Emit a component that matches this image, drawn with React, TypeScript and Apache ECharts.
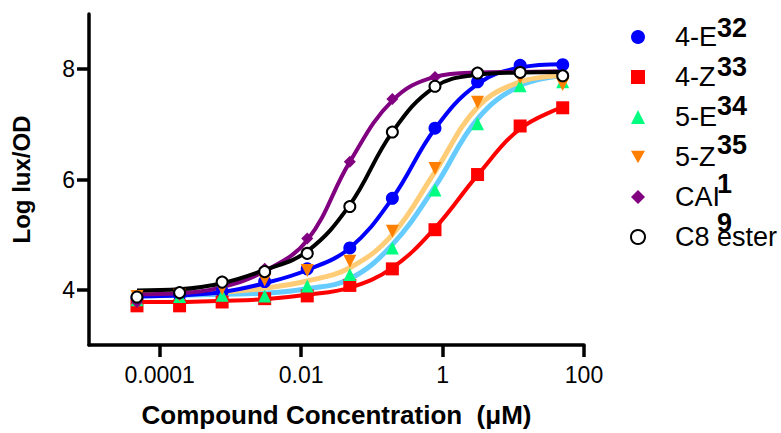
import React, { useEffect, useRef } from "react";
import * as echarts from "echarts";

const FONT = "'Liberation Sans', Arial, sans-serif";

// concentrations (µM)
const CONC = [0.0000477, 0.000191, 0.000763, 0.00305, 0.0122, 0.0488, 0.195, 0.781, 3.125, 12.5, 50];

// measured points
const E4_32 = [3.85, 3.9, 3.97, 4.15, 4.38, 4.76, 5.66, 6.93, 7.77, 8.07, 8.08];
const Z4_33 = [3.71, 3.71, 3.78, 3.84, 3.89, 4.08, 4.38, 5.09, 6.09, 6.97, 7.3];
const E5_34 = [3.82, 3.88, 3.9, 3.89, 4.07, 4.28, 4.76, 5.81, 7.01, 7.7, 7.77];
const Z5_35 = [3.88, 3.9, 4.02, 4.18, 4.35, 4.52, 5.06, 6.2, 7.4, 7.85, 7.72];
const CAI_1 = [3.78, 3.92, 4.15, 4.38, 4.93, 6.32, 7.46, 7.86, 7.94, 7.96, 7.9];
const C8_9 = [3.87, 3.95, 4.14, 4.33, 4.66, 5.51, 6.86, 7.69, 7.93, 7.94, 7.88];

// fitted curves (at the same concentrations)
const FIT_E4 = [3.88, 3.9, 3.96, 4.12, 4.36, 4.76, 5.66, 6.92, 7.73, 8.03, 8.09];
const FIT_Z4 = [3.78, 3.78, 3.8, 3.83, 3.91, 4.04, 4.4, 5.12, 6.08, 6.92, 7.31];
const FIT_E5 = [3.89, 3.9, 3.92, 3.94, 4.02, 4.2, 4.82, 5.87, 7.1, 7.7, 7.88];
const FIT_Z5 = [3.92, 3.93, 3.96, 4.03, 4.16, 4.4, 5.0, 6.14, 7.31, 7.77, 7.88];
const FIT_CAI = [3.92, 3.94, 4.05, 4.34, 4.9, 6.32, 7.43, 7.86, 7.94, 7.95, 7.96];
const FIT_C8 = [3.99, 4.01, 4.12, 4.36, 4.7, 5.54, 6.86, 7.68, 7.9, 7.94, 7.95];

const X_TICKS = [0.0001, 0.01, 1, 100];
const X_TICK_LABELS = ["0.0001", "0.01", "1", "100"];
const Y_TICKS = [4, 6, 8];

const NAMES = ["4-E", "4-Z", "5-E", "5-Z", "CAI", "C8 ester"];
const SUPERS = ["32", "33", "34", "35", "1", "9"];

const toXY = (vals: number[]) => CONC.map((c, i) => [Math.log10(c), vals[i]]);

export default function App() {
  const ref = useRef<HTMLDivElement>(null);

  useEffect(() => {
    if (!ref.current) return;
    const chart = echarts.init(ref.current, undefined, { renderer: "svg" });

    const curve = (vals: number[], color: string, width: number, z: number) => ({
      type: "line",
      data: toXY(vals),
      showSymbol: false,
      smooth: 0.4,
      lineStyle: { color, width },
      z,
      silent: true,
    });

    const points = (name: string, vals: number[], symbol: string, size: number, itemStyle: any) => ({
      type: "scatter",
      name,
      data: toXY(vals),
      symbol,
      symbolSize: size,
      itemStyle: { opacity: 1, ...itemStyle },
      z: 10,
    });

    const rowTop = 23.5;
    const rowStep = 39;
    const supers = SUPERS.map((s, i) => ({
      type: "text",
      z: 100,
      style: {
        text: s,
        x: 717,
        y: rowTop + 13 + i * rowStep - 8.5,
        fill: "#000",
        font: `bold 27px ${FONT}`,
        verticalAlign: "middle",
        align: "left",
      },
    }));

    chart.setOption({
      animation: false,
      backgroundColor: "#fff",
      grid: { left: 89, top: 14, width: 495, height: 333 },
      xAxis: {
        type: "value",
        min: -5,
        max: 2,
        name: "Compound Concentration  (\u03bcM)",
        nameLocation: "middle",
        nameGap: 57,
        nameTextStyle: { fontFamily: FONT, fontSize: 26, fontWeight: "bold", color: "#000" },
        axisLine: { onZero: false, lineStyle: { color: "#000", width: 3.5 } },
        axisTick: {
          show: true,
          length: 12,
          customValues: X_TICKS.map((v) => Math.log10(v)),
          lineStyle: { color: "#000", width: 3.5 },
        },
        axisLabel: {
          customValues: X_TICKS.map((v) => Math.log10(v)),
          formatter: (v: number) => {
            const idx = X_TICKS.findIndex((t) => Math.abs(Math.log10(t) - v) < 1e-6);
            return idx >= 0 ? X_TICK_LABELS[idx] : "";
          },
          margin: 18,
          fontFamily: FONT,
          fontSize: 23,
          color: "#000",
        },
        splitLine: { show: false },
      },
      yAxis: {
        type: "value",
        min: 3,
        max: 9,
        name: "Log lux/OD",
        nameLocation: "middle",
        nameGap: 56,
        nameTextStyle: { fontFamily: FONT, fontSize: 24, fontWeight: "bold", color: "#000" },
        axisLine: { show: true, onZero: false, lineStyle: { color: "#000", width: 3.5 } },
        axisTick: {
          show: true,
          length: 12,
          customValues: Y_TICKS,
          lineStyle: { color: "#000", width: 3.5 },
        },
        axisLabel: {
          customValues: Y_TICKS,
          margin: 14,
          fontFamily: FONT,
          fontSize: 23,
          color: "#000",
        },
        splitLine: { show: false },
      },
      legend: {
        orient: "vertical",
        left: 630,
        top: rowTop,
        padding: 0,
        itemWidth: 14,
        itemHeight: 14,
        itemGap: 13,
        selectedMode: false,
        data: NAMES,
        textStyle: {
          fontFamily: FONT,
          fontSize: 27,
          lineHeight: 26,
          color: "#000",
          padding: [0, 0, 0, 25],
        },
      },
      graphic: supers,
      series: [
        curve(FIT_Z4, "#FF0000", 4, 2),
        curve(FIT_E5, "#66CCFF", 5, 2),
        curve(FIT_Z5, "#FFCC77", 5, 2),
        curve(FIT_E4, "#0000FF", 4, 3),
        curve(FIT_CAI, "#800080", 4, 3),
        curve(FIT_C8, "#000000", 4, 4),
        points(NAMES[0], E4_32, "circle", 13, { color: "#0000FF" }),
        points(NAMES[1], Z4_33, "rect", 13, { color: "#FF0000" }),
        points(NAMES[2], E5_34, "triangle", 13, { color: "#00FF80" }),
        points(NAMES[3], Z5_35, "path://M0,0L10,0L5,9Z", 13, { color: "#FF8000" }),
        points(NAMES[4], CAI_1, "diamond", 12, { color: "#800080" }),
        points(NAMES[5], C8_9, "emptyCircle", 11, { color: "#000000", borderWidth: 3 }),
      ],
    });

    return () => chart.dispose();
  }, []);

  return <div ref={ref} style={{ width: 781, height: 433, position: "absolute", left: 0, top: 0 }} />;
}
